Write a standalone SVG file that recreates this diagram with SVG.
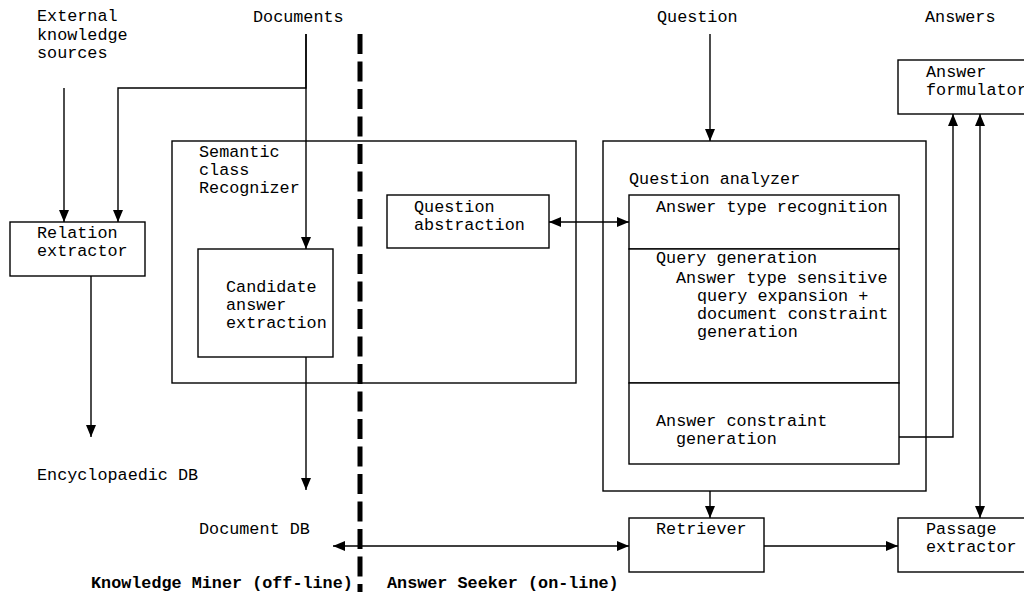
<svg xmlns="http://www.w3.org/2000/svg" width="1024" height="592" viewBox="0 0 1024 592">
  <style>
    text { font-family: "Liberation Mono", "Courier New", monospace; font-size: 16.8px; fill: #000; }
    .bold { font-weight: bold; }
    .box { fill: #fff; stroke: #000; stroke-width: 1.4; }
    .frame { fill: none; stroke: #000; stroke-width: 1.4; }
    .wire { fill: none; stroke: #000; stroke-width: 1.4; }
    .split { fill: none; stroke: #000; stroke-width: 5; stroke-dasharray: 20 7.5; }
  </style>
  <defs>
    <marker id="head" viewBox="0 0 12 10" refX="12" refY="5" markerWidth="12" markerHeight="10" markerUnits="userSpaceOnUse" orient="auto-start-reverse">
      <path d="M0,0 L12,5 L0,10 Z" fill="#000"/>
    </marker>
  </defs>
  <rect width="1024" height="592" fill="#fff"/>

  <!-- free-standing labels -->
  <g id="labels">
    <text x="37" y="21">External</text>
    <text x="37" y="40">knowledge</text>
    <text x="37" y="58">sources</text>
    <text x="253" y="22">Documents</text>
    <text x="657" y="22">Question</text>
    <text x="925" y="22">Answers</text>
    <text x="37" y="480">Encyclopaedic DB</text>
    <text x="199" y="534">Document DB</text>
    <text class="bold" x="91" y="588">Knowledge Miner (off-line)</text>
    <text class="bold" x="387" y="588">Answer Seeker (on-line)</text>
  </g>

  <!-- outer containers -->
  <g id="semantic-class-recognizer">
    <rect class="frame" x="172" y="141" width="404" height="242"/>
    <text x="199" y="157">Semantic</text>
    <text x="199" y="175">class</text>
    <text x="199" y="193">Recognizer</text>
  </g>
  <g id="question-analyzer">
    <rect class="frame" x="603" y="141" width="323" height="350"/>
    <text x="629" y="184">Question analyzer</text>
  </g>

  <!-- connectors -->
  <g id="connectors">
    <path class="wire" d="M64,88 V222" marker-end="url(#head)"/>
    <path class="wire" d="M306,34 V88 H118 V222" marker-end="url(#head)"/>
    <path class="wire" d="M306,34 V249" marker-end="url(#head)"/>
    <path class="wire" d="M91,276 V437" marker-end="url(#head)"/>
    <path class="wire" d="M306,357 V490" marker-end="url(#head)"/>
    <path class="wire" d="M333,546 H629" marker-start="url(#head)" marker-end="url(#head)"/>
    <path class="wire" d="M549,222 H629" marker-start="url(#head)" marker-end="url(#head)"/>
    <path class="wire" d="M710,34 V141" marker-end="url(#head)"/>
    <path class="wire" d="M710,491 V518" marker-end="url(#head)"/>
    <path class="wire" d="M764,546 H898" marker-end="url(#head)"/>
    <path class="wire" d="M899,437 H953 V114" marker-end="url(#head)"/>
    <path class="wire" d="M980,114 V518" marker-start="url(#head)" marker-end="url(#head)"/>
  </g>

  <!-- off-line / on-line boundary -->
  <line class="split" x1="360" y1="34" x2="360" y2="592"/>

  <!-- nodes -->
  <g id="relation-extractor">
    <rect class="box" x="10" y="222" width="135" height="54"/>
    <text x="37" y="238">Relation</text>
    <text x="37" y="256">extractor</text>
  </g>
  <g id="candidate-answer-extraction">
    <rect class="box" x="198" y="249" width="135" height="108"/>
    <text x="226" y="292">Candidate</text>
    <text x="226" y="310">answer</text>
    <text x="226" y="328">extraction</text>
  </g>
  <g id="question-abstraction">
    <rect class="box" x="387" y="195" width="162" height="53"/>
    <text x="414" y="212">Question</text>
    <text x="414" y="230">abstraction</text>
  </g>
  <g id="answer-type-recognition">
    <rect class="box" x="629" y="195" width="270" height="54"/>
    <text x="656" y="212">Answer type recognition</text>
  </g>
  <g id="query-generation">
    <rect class="box" x="629" y="249" width="270" height="134"/>
    <text x="656" y="263">Query generation</text>
    <text x="676" y="283">Answer type sensitive</text>
    <text x="697" y="301">query expansion +</text>
    <text x="697" y="319">document constraint</text>
    <text x="697" y="337">generation</text>
  </g>
  <g id="answer-constraint-generation">
    <rect class="box" x="629" y="383" width="270" height="81"/>
    <text x="656" y="426">Answer constraint</text>
    <text x="676" y="444">generation</text>
  </g>
  <g id="answer-formulator">
    <rect class="box" x="898" y="60" width="140" height="54"/>
    <text x="926" y="77">Answer</text>
    <text x="926" y="95">formulator</text>
  </g>
  <g id="retriever">
    <rect class="box" x="629" y="518" width="135" height="54"/>
    <text x="656" y="534">Retriever</text>
  </g>
  <g id="passage-extractor">
    <rect class="box" x="898" y="518" width="140" height="54"/>
    <text x="926" y="534">Passage</text>
    <text x="926" y="552">extractor</text>
  </g>
</svg>
